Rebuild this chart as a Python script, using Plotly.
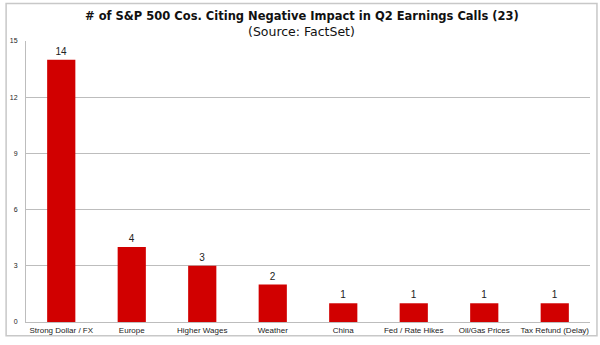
import plotly.graph_objects as go

categories = ["Strong Dollar / FX", "Europe", "Higher Wages", "Weather", "China",
              "Fed / Rate Hikes", "Oil/Gas Prices", "Tax Refund (Delay)"]
counts = [14, 4, 3, 2, 1, 1, 1, 1]
y_ticks = [0, 3, 6, 9, 12, 15]
title_text = "# of S&P 500 Cos. Citing Negative Impact in Q2 Earnings Calls (23)"
subtitle_text = "(Source: FactSet)"

W, H = 600, 345
L, R, T, B = 23, 10, 41, 19
pw, ph = W - L - R, H - T - B


def px_x(x):
    return (x - L) / pw


def px_y(y):
    return (H - B - y) / ph


fig = go.Figure(go.Bar(
    x=categories, y=counts,
    marker=dict(color="#D10000", line=dict(width=0)),
    text=counts, textposition="outside", cliponaxis=False,
    textfont=dict(size=10, color="#222222", family="Liberation Sans, Arial"),
))

fig.update_layout(
    width=W, height=H,
    margin=dict(l=L, r=R, t=T, b=B),
    paper_bgcolor="white", plot_bgcolor="white",
    bargap=0.6,
    showlegend=False,
    font=dict(family="Liberation Sans, Arial", color="#222222"),
    xaxis=dict(
        showline=True, linecolor="#BDBDBD", linewidth=1,
        ticks="", tickfont=dict(size=8, color="#222222"),
        showgrid=False, fixedrange=True,
    ),
    yaxis=dict(
        range=[0, 15], tickvals=y_ticks,
        showline=True, linecolor="#BDBDBD", linewidth=1,
        showgrid=True, gridcolor="#BDBDBD", gridwidth=1,
        ticks="", tickfont=dict(size=7, color="#222222"),
        zeroline=False, ticklabelstandoff=6,
    ),
    annotations=[
        dict(text="<b>" + title_text + "</b>", xref="paper", yref="paper",
             x=px_x(300), y=px_y(16), xanchor="center", yanchor="middle",
             showarrow=False,
             font=dict(size=11.5, color="#111111", family="DejaVu Sans")),
        dict(text=subtitle_text, xref="paper", yref="paper",
             x=px_x(300), y=px_y(31), xanchor="center", yanchor="middle",
             showarrow=False,
             font=dict(size=12.5, color="#111111", family="DejaVu Sans")),
    ],
    shapes=[dict(
        type="rect", xref="paper", yref="paper",
        x0=px_x(3), x1=px_x(597),
        y0=px_y(340), y1=px_y(3),
        line=dict(color="#C8C8C8", width=1.5), fillcolor="rgba(0,0,0,0)",
        layer="below",
    )],
)

fig.write_html("out.html")
